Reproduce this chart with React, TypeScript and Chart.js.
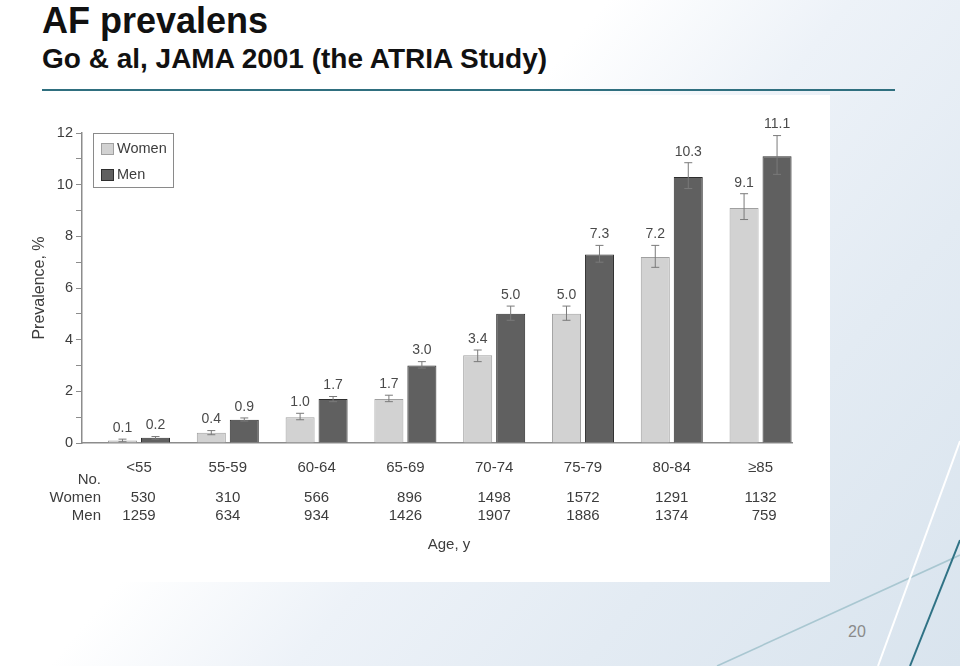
import React, { useEffect, useRef } from 'react';
import { Chart, registerables } from 'chart.js';

Chart.register(...registerables);

// ---------- data ----------
const categories = ['<55', '55-59', '60-64', '65-69', '70-74', '75-79', '80-84', '≥85'];
const womenValues = [0.1, 0.4, 1.0, 1.7, 3.4, 5.0, 7.2, 9.1];
const menValues = [0.2, 0.9, 1.7, 3.0, 5.0, 7.3, 10.3, 11.1];
const womenLow = [0.05, 0.32, 0.9, 1.6, 3.15, 4.75, 6.8, 8.65];
const womenHigh = [0.15, 0.48, 1.15, 1.85, 3.6, 5.3, 7.65, 9.65];
const menLow = [0.15, 0.85, 1.6, 2.9, 4.75, 7.0, 9.85, 10.4];
const menHigh = [0.25, 0.97, 1.8, 3.15, 5.3, 7.65, 10.85, 11.9];
const womenCounts = ['530', '310', '566', '896', '1498', '1572', '1291', '1132'];
const menCounts = ['1259', '634', '934', '1426', '1907', '1886', '1374', '759'];
const seriesNames = ['Women', 'Men'];
const countRowLabels = ['No.', 'Women', 'Men'];
const yAxisTitle = 'Prevalence, %';
const xAxisTitle = 'Age, y';

const FONT = "'Liberation Sans', Arial, Helvetica, sans-serif";
const TEXT = '#3d3d3d';
const AXIS = '#8c8c8c';

const overlayPlugin = {
  id: 'overlay',
  afterDatasetsDraw(chart: any) {
    const ctx = chart.ctx;
    const y = chart.scales.y;
    const lows = [womenLow, menLow];
    const highs = [womenHigh, menHigh];
    const vals = [womenValues, menValues];
    ctx.save();
    for (let d = 0; d < 2; d++) {
      const meta = chart.getDatasetMeta(d);
      meta.data.forEach((bar: any, i: number) => {
        const x = bar.x;
        const yl = y.getPixelForValue(lows[d][i]);
        const yh = y.getPixelForValue(highs[d][i]);
        ctx.strokeStyle = '#7a7a7a';
        ctx.lineWidth = 1;
        ctx.beginPath();
        ctx.moveTo(x, yl);
        ctx.lineTo(x, yh);
        ctx.moveTo(x - 4, yl);
        ctx.lineTo(x + 4, yl);
        ctx.moveTo(x - 4, yh);
        ctx.lineTo(x + 4, yh);
        ctx.stroke();
        ctx.fillStyle = '#4a4a4a';
        ctx.font = `14px ${FONT}`;
        ctx.textAlign = 'center';
        ctx.textBaseline = 'middle';
        ctx.fillText(vals[d][i].toFixed(1), x, yh - 11);
      });
    }
    ctx.restore();
  },
  afterDraw(chart: any) {
    const ctx = chart.ctx;
    const area = chart.chartArea;
    const xs = chart.scales.x;
    ctx.save();
    // legend
    const bx = area.left + 11;
    const by = area.top;
    ctx.strokeStyle = '#8a8a8a';
    ctx.lineWidth = 1;
    ctx.strokeRect(bx + 0.5, by + 0.5, 80, 54);
    chart.data.datasets.forEach((ds: any, k: number) => {
      const sy = by + 10 + k * 26;
      ctx.fillStyle = ds.backgroundColor;
      ctx.fillRect(bx + 8, sy, 13, 12);
      ctx.strokeStyle = ds.borderColor;
      ctx.strokeRect(bx + 8.5, sy + 0.5, 12, 11);
      ctx.fillStyle = TEXT;
      ctx.font = `14.5px ${FONT}`;
      ctx.textAlign = 'left';
      ctx.textBaseline = 'middle';
      ctx.fillText(seriesNames[k], bx + 24, sy + 6);
    });
    // counts table
    const base = area.bottom;
    ctx.font = `15px ${FONT}`;
    ctx.fillStyle = TEXT;
    ctx.textBaseline = 'middle';
    ctx.textAlign = 'right';
    const rowY = [base + 37, base + 55, base + 73];
    countRowLabels.forEach((t, r) => ctx.fillText(t, area.left + 19, rowY[r]));
    categories.forEach((_, i) => {
      const cx = xs.getPixelForValue(i);
      const w = Math.max(ctx.measureText(womenCounts[i]).width, ctx.measureText(menCounts[i]).width);
      ctx.fillText(womenCounts[i], cx + w / 2, rowY[1]);
      ctx.fillText(menCounts[i], cx + w / 2, rowY[2]);
    });
    ctx.textAlign = 'center';
    ctx.fillText(xAxisTitle, (area.left + area.right) / 2 + 12, base + 102);
    ctx.restore();
  },
};

function ChartPanel() {
  const ref = useRef<HTMLCanvasElement | null>(null);
  useEffect(() => {
    if (!ref.current) return;
    const chart = new Chart(ref.current, {
      type: 'bar',
      data: {
        datasets: [
          {
            label: seriesNames[0],
            data: womenValues.map((v, i) => ({ x: i, y: v })) as any,
            backgroundColor: '#d2d2d2',
            borderColor: '#a0a0a0',
            borderWidth: 1,
          },
          {
            label: seriesNames[1],
            data: menValues.map((v, i) => ({ x: i, y: v })) as any,
            backgroundColor: '#606060',
            borderColor: '#2e2e2e',
            borderWidth: 1,
          },
        ],
      },
      options: {
        animation: false,
        responsive: false,
        maintainAspectRatio: false,
        categoryPercentage: 0.743,
        barPercentage: 0.88,
        layout: { padding: { top: 38, right: 38, left: 0, bottom: 0 } },
        plugins: { legend: { display: false }, tooltip: { enabled: false } },
        scales: {
          x: {
            type: 'linear',
            offset: false,
            min: -0.642,
            max: 7.354,
            afterBuildTicks: (s: any) => {
              s.ticks = categories.map((_, i) => ({ value: i }));
            },
            afterFit: (s: any) => {
              s.height = 139;
            },
            ticks: {
              callback: (v: any) => categories[v as number] ?? '',
              font: { family: FONT, size: 15 },
              color: TEXT,
              padding: 8,
              autoSkip: false,
              maxRotation: 0,
            },
            grid: { display: false, offset: false },
            border: { display: true, color: AXIS, width: 1.5 },
          },
          y: {
            min: 0,
            max: 12,
            afterBuildTicks: (s: any) => {
              s.ticks = Array.from({ length: 13 }, (_, i) => ({ value: i }));
            },
            afterFit: (s: any) => {
              s.width = 60;
            },
            ticks: {
              callback: (v: any) => ((v as number) % 2 === 0 ? String(v) : ''),
              font: { family: FONT, size: 14.5 },
              color: TEXT,
              padding: 3,
            },
            grid: { drawOnChartArea: false, drawTicks: true, tickLength: 6, color: AXIS },
            border: { display: true, color: AXIS, width: 1.5 },
            title: {
              display: true,
              text: yAxisTitle,
              font: { family: FONT, size: 16 },
              color: TEXT,
              padding: { top: 8, bottom: 0 },
            },
          },
        },
      } as any,
      plugins: [overlayPlugin],
    });
    return () => chart.destroy();
  }, []);
  return <canvas ref={ref} width={808} height={487} style={{ display: 'block', width: 808, height: 487 }} />;
}

export default function App() {
  return (
    <div
      style={{
        position: 'fixed',
        left: 0,
        top: 0,
        width: 960,
        height: 666,
        overflow: 'hidden',
        background: 'linear-gradient(130deg, #ffffff 0%, #ffffff 40%, #edf2f8 56%, #e3ebf3 75%, #d9e4ee 100%)',
        fontFamily: FONT,
      }}
    >
      <div
        style={{
          position: 'absolute',
          left: 42,
          top: 3,
          fontSize: 36,
          lineHeight: '36px',
          fontWeight: 'bold',
          color: '#111',
          whiteSpace: 'nowrap',
        }}
      >
        AF prevalens
      </div>
      <div
        style={{
          position: 'absolute',
          left: 42,
          top: 45,
          fontSize: 28,
          lineHeight: '28px',
          fontWeight: 'bold',
          color: '#111',
          whiteSpace: 'nowrap',
        }}
      >
        Go &amp; al, JAMA 2001 (the ATRIA Study)
      </div>
      <div style={{ position: 'absolute', left: 42, top: 89, width: 853, height: 2, background: '#2f6f7f' }} />
      <svg width={960} height={666} style={{ position: 'absolute', left: 0, top: 0 }}>
        <line x1={717} y1={666} x2={960} y2={555} stroke="#a9c7d1" strokeWidth={1.6} />
        <line x1={878} y1={666} x2={960} y2={441} stroke="#ffffff" strokeWidth={2} />
        <line x1={910} y1={666} x2={960} y2={540} stroke="#2f7285" strokeWidth={2} />
      </svg>
      <div style={{ position: 'absolute', left: 22, top: 95, width: 808, height: 487, background: '#ffffff' }}>
        <ChartPanel />
      </div>
      <div
        style={{
          position: 'absolute',
          left: 837,
          top: 622,
          width: 40,
          textAlign: 'center',
          fontSize: 16,
          lineHeight: '20px',
          color: '#8a8a8a',
        }}
      >
        20
      </div>
    </div>
  );
}
